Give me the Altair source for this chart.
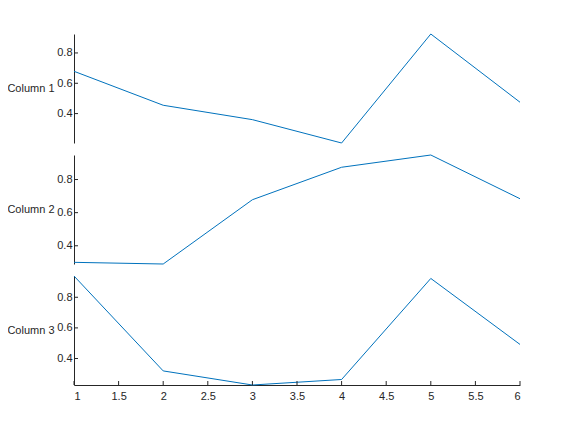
import altair as alt
import pandas as pd

# ---- data ----
x_vals = [1, 2, 3, 4, 5, 6]
col1 = [0.679, 0.455, 0.360, 0.206, 0.925, 0.475]
col2 = [0.300, 0.290, 0.678, 0.874, 0.948, 0.684]
col3 = [0.939, 0.319, 0.227, 0.263, 0.923, 0.492]
names = ["Column 1", "Column 2", "Column 3"]
y_ticks = [0.4, 0.6, 0.8]
x_ticks = [1, 1.5, 2, 2.5, 3, 3.5, 4, 4.5, 5, 5.5, 6]

FONT = "Liberation Sans"
TXT = "#262626"
LINE = "#0072BD"
W, H = 446, 109


def panel(name, vals, show_x):
    df = pd.DataFrame({"x": x_vals, "y": vals})
    yscale = alt.Scale(domain=[min(vals), max(vals)], nice=False, zero=False)
    xscale = alt.Scale(domain=[1, 6], nice=False)
    xaxis = alt.Axis(values=x_ticks, format="~g", ticks=False, grid=False,
                     labelPadding=5, title=None, domainColor=TXT,
                     labelColor=TXT, labelFont=FONT, labelFontSize=11)
    yaxis = alt.Axis(values=y_ticks, format=".1f", ticks=False, grid=False,
                     labelPadding=2, title=name, titleAngle=0,
                     titleAlign="right", titleBaseline="middle",
                     titleX=-20, titleY=H / 2, titleFontWeight="normal",
                     titleFont=FONT, titleFontSize=11, titleColor=TXT,
                     domainColor=TXT, labelColor=TXT, labelFont=FONT,
                     labelFontSize=11)
    line = alt.Chart(df).mark_line(color=LINE, strokeWidth=1).encode(
        x=alt.X("x:Q", scale=xscale, axis=xaxis if show_x else None),
        y=alt.Y("y:Q", scale=yscale, axis=yaxis),
    )
    ytick = alt.Chart(pd.DataFrame({"y": y_ticks})).mark_rule(
        color=TXT, strokeWidth=1).encode(
        y=alt.Y("y:Q", scale=yscale, axis=yaxis),
        x=alt.value(0), x2=alt.value(4),
    )
    layers = [line, ytick]
    if show_x:
        xtick = alt.Chart(pd.DataFrame({"x": x_ticks})).mark_rule(
            color=TXT, strokeWidth=1).encode(
            x=alt.X("x:Q", scale=xscale, axis=xaxis),
            y=alt.value(H), y2=alt.value(H - 4),
        )
        layers.append(xtick)
    return alt.layer(*layers).properties(width=W, height=H)


chart = alt.vconcat(
    panel(names[0], col1, False),
    panel(names[1], col2, False),
    panel(names[2], col3, True),
    spacing=8,
    background="white",
    padding={"left": -2, "top": 24, "right": 5, "bottom": 5},
).configure_view(stroke=None)

chart.save("out.html", embed_options={"renderer": "svg", "actions": False})
